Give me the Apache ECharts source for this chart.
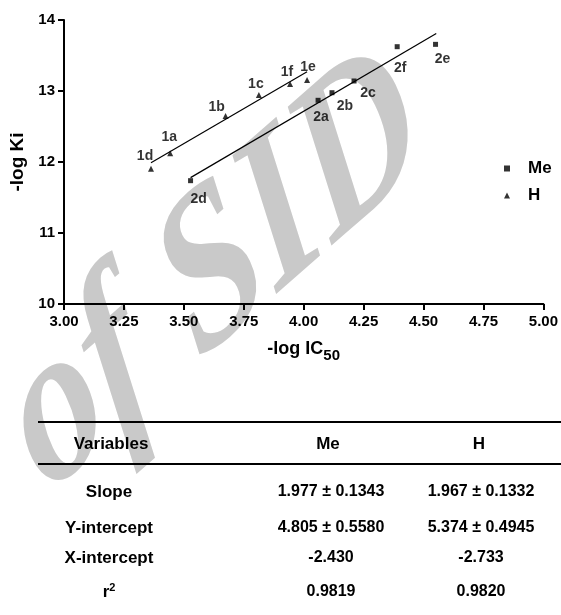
<!DOCTYPE html>
<html>
<head>
<meta charset="utf-8">
<script src="https://cdn.jsdelivr.net/npm/echarts@6/dist/echarts.min.js"></script>
<style>
html, body { margin: 0; padding: 0; background: #fff; }
#main { width: 561px; height: 615px; }
</style>
</head>
<body>
<div id="main"></div>
<script>
// 散点数据: -log IC50 / -log Ki
var meNames = ['2d', '2a', '2b', '2c', '2f', '2e'];
var meX = [3.528, 4.060, 4.118, 4.210, 4.390, 4.550];
var meY = [11.737, 12.869, 12.976, 13.141, 13.624, 13.657];
var hNames = ['1d', '1a', '1b', '1c', '1f', '1e'];
var hX = [3.363, 3.443, 3.674, 3.813, 3.943, 4.014];
var hY = [11.904, 12.122, 12.648, 12.944, 13.099, 13.155];

// 回归线两端
var meFitX = [3.528, 4.553];
var meFitY = [11.78, 13.81];
var hFitX = [3.363, 4.014];
var hFitY = [11.99, 13.27];

// 下方表格
var tableHead = ['Variables', 'Me', 'H'];
var rowNames = ['Slope', 'Y-intercept', 'X-intercept', 'r2'];
var meStats = ['1.977 ± 0.1343', '4.805 ± 0.5580', '-2.430', '0.9819'];
var hStats = ['1.967 ± 0.1332', '5.374 ± 0.4945', '-2.733', '0.9820'];

// 标签偏移 (px)
var labelOffset = {
  '1d': [-6, -13], '1a': [-1, -16], '1b': [-9, -9], '1c': [-3, -11], '1f': [-3, -12], '1e': [1, -13],
  '2d': [8, 18], '2a': [3, 17], '2b': [13, 13], '2c': [14, 12], '2f': [3, 21], '2e': [7, 15]
};

var FONT = '"Liberation Sans", Arial, sans-serif';

function points(names, xs, ys) {
  return names.map(function (n, i) {
    return { name: n, value: [xs[i], ys[i]], label: { offset: labelOffset[n] } };
  });
}
function pairs(xs, ys) {
  return xs.map(function (x, i) { return [x, ys[i]]; });
}

var axisBase = {
  axisLine: { lineStyle: { color: '#000', width: 2 } },
  axisTick: { inside: false, length: 6, lineStyle: { color: '#000', width: 2 } },
  splitLine: { show: false },
  axisLabel: { color: '#000', fontFamily: FONT, fontWeight: 'bold', fontSize: 15 }
};

var chart = echarts.init(document.getElementById('main'));

// 表格文字
var tableEls = [];
var colX = [109, 331, 481];
var rowY = [492, 528, 558, 592];
tableEls.push({ type: 'line', shape: { x1: 38, y1: 422, x2: 561, y2: 422 }, style: { stroke: '#000', lineWidth: 2 } });
tableEls.push({ type: 'line', shape: { x1: 38, y1: 464, x2: 561, y2: 464 }, style: { stroke: '#000', lineWidth: 2 } });
tableHead.forEach(function (t, i) {
  tableEls.push({
    type: 'text', x: i === 0 ? 111 : (i === 1 ? 328 : 479), y: 444,
    style: { text: t, font: 'bold 17px ' + FONT, fill: '#000', textAlign: 'center', textVerticalAlign: 'middle', align: 'center', verticalAlign: 'middle' }
  });
});
rowNames.forEach(function (t, r) {
  var isR2 = t === 'r2';
  tableEls.push({
    type: 'text', x: colX[0], y: rowY[r],
    style: {
      text: isR2 ? '{a|r}{b|2}' : t,
      rich: { a: { font: 'bold 17px ' + FONT, fill: '#000' }, b: { font: 'bold 11px ' + FONT, fill: '#000', verticalAlign: 'top', padding: [0, 0, 8, 0] } },
      font: 'bold 17px ' + FONT, fill: '#000', textAlign: 'center', textVerticalAlign: 'middle', align: 'center', verticalAlign: 'middle'
    }
  });
  [meStats, hStats].forEach(function (col, c) {
    tableEls.push({
      type: 'text', x: colX[c + 1], y: rowY[r],
      style: { text: col[r], font: 'bold 16px ' + FONT, fill: '#000', textAlign: 'center', textVerticalAlign: 'middle', align: 'center', verticalAlign: 'middle' }
    });
  });
});

// 水印 (旋转后纵向拉伸)
var wmStyle = { font: 'italic bold 168px "Liberation Serif", serif', fill: '#c9c9c9', textVerticalAlign: 'middle', verticalAlign: 'middle' };
var watermark = {
  type: 'group', x: 23, y: 446, scaleY: 1.35, z: -10, silent: true,
  children: [
    { type: 'text', rotation: 33 * Math.PI / 180, z: -10,
      style: Object.assign({ text: 'Archive ', textAlign: 'right', align: 'right' }, wmStyle) },
    { type: 'text', rotation: 33 * Math.PI / 180, z: -10,
      style: Object.assign({ text: 'of SID', textAlign: 'left', align: 'left' }, wmStyle) }
  ]
};

var option = {
  backgroundColor: '#fff',
  animation: false,
  grid: { left: 64, top: 20, width: 480, height: 284, containLabel: false },
  legend: {
    data: ['Me', 'H'], orient: 'vertical', left: 499, top: 155,
    itemWidth: 6, itemHeight: 6, itemGap: 10,
    textStyle: { color: '#000', fontFamily: FONT, fontWeight: 'bold', fontSize: 17, lineHeight: 17, padding: [0, 0, 0, 13] }
  },
  xAxis: Object.assign({}, axisBase, {
    type: 'value', min: 3, max: 5, interval: 0.25,
    axisLabel: Object.assign({}, axisBase.axisLabel, { margin: 10, formatter: function (v) { return v.toFixed(2); } }),
    name: '{t|-log IC}{s|50}', nameLocation: 'middle', nameGap: 36,
    nameTextStyle: {
      rich: {
        t: { fontFamily: FONT, fontWeight: 'bold', fontSize: 18, lineHeight: 20, color: '#000', verticalAlign: 'top' },
        s: { fontFamily: FONT, fontWeight: 'bold', fontSize: 15, lineHeight: 16, color: '#000', verticalAlign: 'top', padding: [8, 0, 0, 0] }
      }
    }
  }),
  yAxis: Object.assign({}, axisBase, {
    type: 'value', min: 10, max: 14, interval: 1,
    axisLabel: Object.assign({}, axisBase.axisLabel, { margin: 9 }),
    name: '-log Ki', nameLocation: 'middle', nameGap: 27, nameRotate: 90,
    nameTextStyle: { color: '#000', fontFamily: FONT, fontWeight: 'bold', fontSize: 19, lineHeight: 19 }
  }),
  graphic: { elements: [watermark].concat(tableEls) },
  series: [
    {
      name: 'Me', type: 'scatter', symbol: 'rect', symbolSize: 5, z: 5,
      itemStyle: { color: '#000' },
      label: { show: true, position: 'inside', formatter: '{b}', color: '#000', fontFamily: FONT, fontWeight: 'bold', fontSize: 14 },
      data: points(meNames, meX, meY)
    },
    {
      name: 'H', type: 'scatter', symbol: 'triangle', symbolSize: 6, z: 5,
      itemStyle: { color: '#000' },
      label: { show: true, position: 'inside', formatter: '{b}', color: '#000', fontFamily: FONT, fontWeight: 'bold', fontSize: 14 },
      data: points(hNames, hX, hY)
    },
    {
      name: 'MeFit', type: 'line', showSymbol: false, silent: true,
      lineStyle: { color: '#000', width: 1.2 }, data: pairs(meFitX, meFitY)
    },
    {
      name: 'HFit', type: 'line', showSymbol: false, silent: true,
      lineStyle: { color: '#000', width: 1.2 }, data: pairs(hFitX, hFitY)
    }
  ]
};
chart.setOption(option);
</script>
</body>
</html>
